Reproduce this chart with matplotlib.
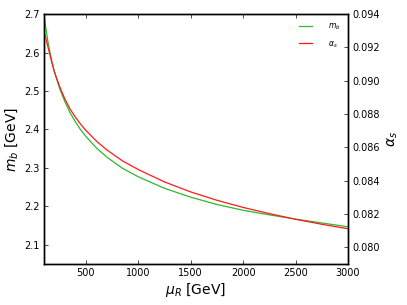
import matplotlib
matplotlib.use("Agg")
import matplotlib.pyplot as plt

mu = [100, 112, 125, 137, 150, 175, 200, 250, 300, 350, 400, 450, 500, 600,
      700, 850, 1000, 1250, 1500, 1750, 2000, 2250, 2500, 2750, 3000]
m_b = [2.700, 2.674, 2.651, 2.630, 2.610, 2.578, 2.550, 2.506, 2.472, 2.443,
       2.420, 2.399, 2.382, 2.352, 2.328, 2.299, 2.277, 2.247, 2.224, 2.205,
       2.190, 2.178, 2.167, 2.157, 2.147]
alpha_s = [0.09300, 0.09268, 0.09236, 0.09205, 0.09172, 0.09110, 0.09052,
           0.08964, 0.08890, 0.08829, 0.08781, 0.08739, 0.08702, 0.08638,
           0.08585, 0.08519, 0.08467, 0.08393, 0.08333, 0.08283, 0.08240,
           0.08203, 0.08169, 0.08139, 0.08112]

xticks = [500, 1000, 1500, 2000, 2500, 3000]
yticks_left = [2.1, 2.2, 2.3, 2.4, 2.5, 2.6, 2.7]
yticks_right = [0.080, 0.082, 0.084, 0.086, 0.088, 0.090, 0.092, 0.094]

green = "#2db82d"
red = "#ff1a1a"

fig = plt.figure(figsize=(4.07, 3.05), dpi=100)
ax = fig.add_axes([0.108, 0.134, 0.747, 0.820])
ax2 = ax.twinx()

l1, = ax.plot(mu, m_b, color=green, lw=0.9, label=r"$m_b$")
l2, = ax2.plot(mu, alpha_s, color=red, lw=0.9, label=r"$\alpha_s$")

ax.set_xlim(100, 3000)
ax.set_ylim(2.05, 2.7)
ax2.set_ylim(0.079, 0.094)
ax.set_xticks(xticks)
ax.set_yticks(yticks_left)
ax2.set_yticks(yticks_right)
ax.set_xticklabels([str(t) for t in xticks])
ax.set_yticklabels([f"{t:.1f}" for t in yticks_left])
ax2.set_yticklabels([f"{t:.3f}" for t in yticks_right])

for a in (ax, ax2):
    for s in a.spines.values():
        s.set_linewidth(1.0)
        s.set_color("black")
ax.tick_params(axis="both", direction="in", labelsize=7, length=3, width=0.5,
               top=True, right=False, pad=3)
ax2.tick_params(axis="y", direction="in", labelsize=7, length=3, width=0.5,
                right=True, pad=3)

ax.set_xlabel(r"$\mu_R$ [GeV]", fontsize=10, labelpad=2)
ax.set_ylabel(r"$m_b$ [GeV]", fontsize=10, labelpad=3)
ax2.set_ylabel(r"$\alpha_s$", fontsize=10, labelpad=4)

leg = ax2.legend([l1, l2], [r"$m_b$", r"$\alpha_s$"], loc="upper right",
                 frameon=False, fontsize=5.5, handlelength=1.8,
                 borderaxespad=0.6, labelspacing=0.9, handletextpad=2.0)

fig.savefig("out.png", dpi=100)
